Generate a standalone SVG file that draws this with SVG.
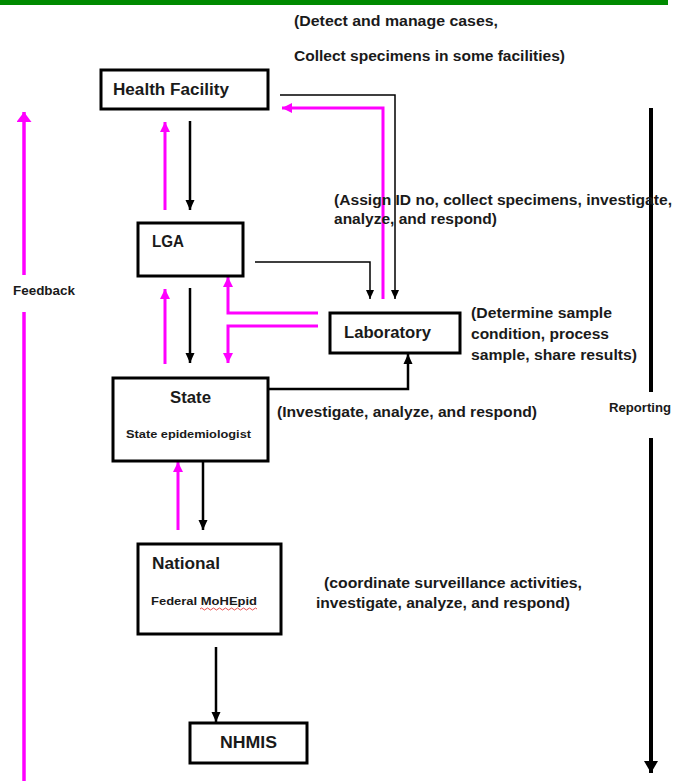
<svg xmlns="http://www.w3.org/2000/svg" width="675" height="781" viewBox="0 0 675 781">
<style>
  .box { fill: #ffffff; stroke: #000000; stroke-width: 3; }
  .lbl { font-family: "Liberation Sans", Arial, sans-serif; font-weight: bold; fill: #1a1a1a; }
  .note { font-family: "Liberation Sans", Arial, sans-serif; font-weight: bold; font-size: 14px; fill: #1a1a1a; }
  .blk { fill: none; stroke: #000000; stroke-width: 2.5; }
  .thin { fill: none; stroke: #000000; stroke-width: 1.5; }
  .mag { fill: none; stroke: #ff00ff; stroke-width: 3; }
</style>
<defs>
  <marker id="ahB" markerUnits="userSpaceOnUse" markerWidth="10" markerHeight="10" refX="10" refY="5" orient="auto">
    <path d="M0,0.5 L10,5 L0,9.5 z" fill="#000000"/>
  </marker>
  <marker id="ahT" markerUnits="userSpaceOnUse" markerWidth="9" markerHeight="9" refX="9" refY="4.5" orient="auto">
    <path d="M0,0.5 L9,4.5 L0,8.5 z" fill="#000000"/>
  </marker>
  <marker id="ahM" markerUnits="userSpaceOnUse" markerWidth="10" markerHeight="11" refX="10" refY="5.5" orient="auto">
    <path d="M0,0.5 L10,5.5 L0,10.5 z" fill="#ff00ff"/>
  </marker>
  <marker id="ahMB" markerUnits="userSpaceOnUse" markerWidth="10" markerHeight="15" refX="10" refY="7.5" orient="auto">
    <path d="M0,0 L10,7.5 L0,15 z" fill="#ff00ff"/>
  </marker>
  <marker id="ahBB" markerUnits="userSpaceOnUse" markerWidth="12" markerHeight="14" refX="12" refY="7" orient="auto">
    <path d="M0,0 L12,7 L0,14 z" fill="#000000"/>
  </marker>
</defs>
<rect x="0" y="0" width="668" height="5" fill="#008a00"/>

<g id="connectors">
  <line class="blk" x1="190" y1="121" x2="190" y2="210" marker-end="url(#ahB)"/>
  <line class="blk" x1="190" y1="288" x2="190" y2="363" marker-end="url(#ahB)"/>
  <line class="blk" x1="203" y1="462" x2="203" y2="530" marker-end="url(#ahB)"/>
  <line class="blk" x1="216" y1="647" x2="216" y2="722" marker-end="url(#ahB)"/>
  <path class="blk" d="M268,389 H408 V354" marker-end="url(#ahB)"/>
  <path class="thin" d="M280,95 H395 V299" marker-end="url(#ahT)"/>
  <path class="thin" d="M255,262 H370 V299" marker-end="url(#ahT)"/>
  <line class="mag" x1="165" y1="210" x2="165" y2="122" marker-end="url(#ahM)"/>
  <line class="mag" x1="165" y1="364" x2="165" y2="289" marker-end="url(#ahM)"/>
  <line class="mag" x1="178" y1="530" x2="178" y2="462" marker-end="url(#ahM)"/>
  <path class="mag" d="M383,299 V108 H282" marker-end="url(#ahM)"/>
  <path class="mag" d="M318,313 H228 V277" marker-end="url(#ahM)"/>
  <path class="mag" d="M318,326 H228 V363" marker-end="url(#ahM)"/>
  <line x1="24" y1="781" x2="24" y2="312" stroke="#ff00ff" stroke-width="3.5"/>
  <line x1="24" y1="275" x2="24" y2="112" stroke="#ff00ff" stroke-width="3.5" marker-end="url(#ahMB)"/>
  <line x1="651" y1="108" x2="651" y2="392" stroke="#000000" stroke-width="4"/>
  <line x1="651" y1="438" x2="651" y2="773" stroke="#000000" stroke-width="4" marker-end="url(#ahBB)"/>
</g>

<g id="health-facility">
  <rect class="box" x="101" y="70" width="167" height="39"/>
  <text class="lbl" x="113" y="95" font-size="16" textLength="116" lengthAdjust="spacingAndGlyphs">Health Facility</text>
</g>
<g id="lga">
  <rect class="box" x="138" y="223" width="105" height="53"/>
  <text class="lbl" x="152" y="247" font-size="16" textLength="32" lengthAdjust="spacingAndGlyphs">LGA</text>
</g>
<g id="laboratory">
  <rect class="box" x="330" y="313" width="130" height="40"/>
  <text class="lbl" x="344" y="338" font-size="16" textLength="87" lengthAdjust="spacingAndGlyphs">Laboratory</text>
</g>
<g id="state">
  <rect class="box" x="113" y="378" width="155" height="83"/>
  <text class="lbl" x="170" y="403" font-size="16" textLength="41" lengthAdjust="spacingAndGlyphs">State</text>
  <text class="lbl" x="126" y="438" font-size="11" textLength="125" lengthAdjust="spacingAndGlyphs">State epidemiologist</text>
</g>
<g id="national">
  <rect class="box" x="138" y="544" width="143" height="90"/>
  <text class="lbl" x="152" y="569" font-size="16" textLength="68" lengthAdjust="spacingAndGlyphs">National</text>
  <text class="lbl" x="151" y="605" font-size="10.5" textLength="106" lengthAdjust="spacingAndGlyphs">Federal MoHEpid</text>
  <path d="M200,609 q1.5,-2 3,0 t3,0 t3,0 t3,0 t3,0 t3,0 t3,0 t3,0 t3,0 t3,0 t3,0 t3,0 t3,0 t3,0 t3,0 t3,0 t3,0 t3,0 t3,0" fill="none" stroke="#e02020" stroke-width="0.8"/>
</g>
<g id="nhmis">
  <rect class="box" x="190" y="723" width="117" height="40"/>
  <text class="lbl" x="220" y="748" font-size="16" textLength="57" lengthAdjust="spacingAndGlyphs">NHMIS</text>
</g>

<g id="notes">
  <text class="note" x="294" y="26" textLength="204" lengthAdjust="spacingAndGlyphs">(Detect and manage cases,</text>
  <text class="note" x="294" y="61" textLength="271" lengthAdjust="spacingAndGlyphs">Collect specimens in some facilities)</text>
  <text class="note" x="334" y="205" textLength="338" lengthAdjust="spacingAndGlyphs">(Assign ID no, collect specimens, investigate,</text>
  <text class="note" x="334" y="224" textLength="163" lengthAdjust="spacingAndGlyphs">analyze, and respond)</text>
  <text class="note" x="471" y="318" textLength="141" lengthAdjust="spacingAndGlyphs">(Determine sample</text>
  <text class="note" x="471" y="339" textLength="138" lengthAdjust="spacingAndGlyphs">condition, process</text>
  <text class="note" x="471" y="360" textLength="166" lengthAdjust="spacingAndGlyphs">sample, share results)</text>
  <text class="note" x="277" y="417" textLength="260" lengthAdjust="spacingAndGlyphs">(Investigate, analyze, and respond)</text>
  <text class="note" x="324" y="588" textLength="258" lengthAdjust="spacingAndGlyphs">(coordinate surveillance activities,</text>
  <text class="note" x="316" y="608" textLength="254" lengthAdjust="spacingAndGlyphs">investigate, analyze, and respond)</text>
  <text class="lbl" x="13" y="295" font-size="12" textLength="62" lengthAdjust="spacingAndGlyphs">Feedback</text>
  <text class="lbl" x="609" y="412" font-size="12" textLength="62" lengthAdjust="spacingAndGlyphs">Reporting</text>
</g>
</svg>
